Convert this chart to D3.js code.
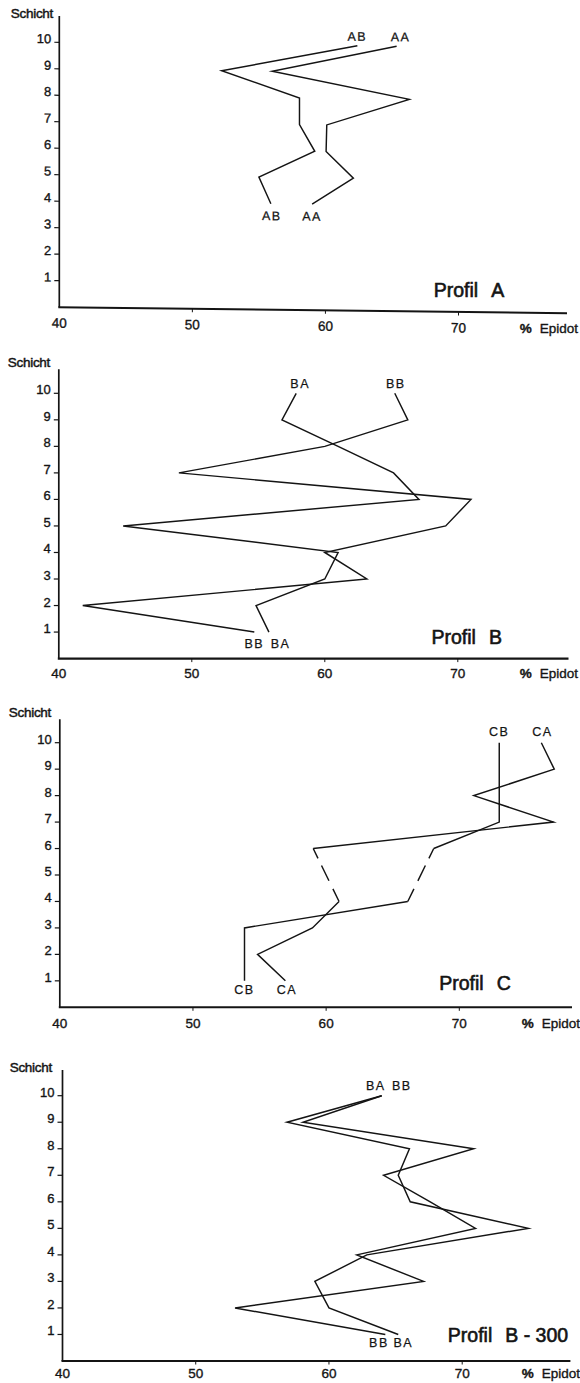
<!DOCTYPE html>
<html>
<head>
<meta charset="utf-8">
<script src="https://cdn.jsdelivr.net/npm/d3@7"></script>
<style>
  html, body { margin: 0; padding: 0; background: #fff; }
  svg { display: block; font-family: "Liberation Sans", Arial, sans-serif; }
</style>
</head>
<body>
<svg id="chart" width="580" height="1383"></svg>
<script>
// Schicht (layer) numbers, bottom to top
const layers = [1, 2, 3, 4, 5, 6, 7, 8, 9, 10];
const xTicks = [40, 50, 60, 70];
const yTicks = [1, 2, 3, 4, 5, 6, 7, 8, 9, 10];

// % Epidot per Schicht (index 0 = Schicht 1); null = no sample
const profilA_AB = [null, null, null, 55.9, 55.0, 59.2, 58.05, 58.05, 52.2, 62.4];
const profilA_AA = [null, null, null, 59.0, 62.1, 60.05, 60.1, 66.3, 56.0, 65.35];
const profilB_BA = [55.8, 54.83, 60.0, 61.0, 44.84, 67.08, 65.17, 61.0, 56.78, 57.85];
const profilB_BB = [54.7, 41.8, 63.16, 60.0, 69.09, 70.99, 49.03, 60.0, 66.24, 65.26];
const profilC_CA = [56.94, 54.85, 58.97, 60.97, null, 59.03, 77.08, 71.09, 77.13, 76.16];
const profilC_CB = [53.87, 53.87, 53.87, 66.13, null, 68.08, 73.0, 73.0, 73.0, 73.0];
const profilB300_BA = [65.2, 60.0, 58.94, 62.84, 74.96, 66.1, 65.2, 66.04, 56.85, 63.96];
const profilB300_BB = [64.23, 52.95, 67.1, 62.09, 71.0, 67.6, 64.1, 70.86, 58.05, 63.96];

// Panel titles: word "Profil" and the profile name
const panelWord = "Profil";
const panelNames = ["A", "B", "C", "B - 300"];
const seriesNames = [["AB", "AA"], ["BA", "BB"], ["CA", "CB"], ["BA", "BB"]];
const seriesValues = [
  [profilA_AB, profilA_AA],
  [profilB_BA, profilB_BB],
  [profilC_CA, profilC_CB],
  [profilB300_BA, profilB300_BB]
];
const yAxisTitle = "Schicht";
const xAxisUnit = "%";
const xAxisTitle = "Epidot";

// Panel geometry (pixels) and label offsets
const layout = [
  { x40: 59.3, x70: 458.5, top: 16, y0: 307.2, y10: 42.3, right: 567, shear: 0.0118,
    schicht: [53, 18], title: [469, 296.5], epidot: [578, 332.5], xLabDy: 20.5,
    lab: [{ top: [0, -5], bot: [1, 16.5] }, { top: [4, -5], bot: [0, 16.5] }] },
  { x40: 58.8, x70: 457.8, top: 369.3, y0: 658.6, y10: 393.3, right: 568.5, shear: 0,
    schicht: [50, 367.3], title: [466.7, 644], epidot: [578, 678], xLabDy: 19.4,
    lab: [{ top: [4, -5.7], bot: [11.6, 16] }, { top: [1, -5.7], bot: [0, 16] }] },
  { x40: 59.8, x70: 459.3, top: 719.3, y0: 1007.3, y10: 742.7, right: 572, shear: 0,
    schicht: [51, 717.3], title: [475, 989.5], epidot: [580, 1027.7], xLabDy: 20.7,
    lab: [{ top: [1, -6.7], bot: [1.5, 13.3] }, { top: [0, -6.7], bot: [0, 13.3] }] },
  { x40: 62.5, x70: 462.2, top: 1070, y0: 1361, y10: 1095.7, right: 570.4, shear: 0,
    schicht: [51.9, 1072], title: [508, 1342], epidot: [580, 1377.7], xLabDy: 17,
    lab: [{ top: [-6, -5.4], bot: [5, 13] }, { top: [20, -5.4], bot: [-6.4, 13] }] }
];

const ink = "#141414";
const svg = d3.select("#chart");

// Straight dashed bridges over interior gaps (missing samples)
function gapSegments(vals) {
  const segs = [];
  let prev = null;
  vals.forEach((v, i) => {
    if (v == null) return;
    if (prev !== null && i - prev > 1) {
      segs.push([[layers[prev], vals[prev]], [layers[i], v]]);
    }
    prev = i;
  });
  return segs;
}

layout.forEach((L, p) => {
  const x = d3.scaleLinear().domain([40, 70]).range([L.x40, L.x70]);
  const y = d3.scaleLinear().domain([0, 10]).range([L.y0, L.y10]);

  // Panel A was drawn with a slightly sloping base line: shear the plot to follow it
  const g = svg.append("g")
    .attr("transform", `matrix(1,${L.shear},0,1,0,${-L.shear * L.x40})`);

  // y axis
  g.append("line")
    .attr("x1", L.x40).attr("x2", L.x40)
    .attr("y1", L.top).attr("y2", L.y0)
    .attr("stroke", ink).attr("stroke-width", 1.7);

  // x axis
  g.append("line")
    .attr("x1", L.x40 - 1).attr("x2", L.right)
    .attr("y1", L.y0).attr("y2", L.y0)
    .attr("stroke", ink).attr("stroke-width", 2.1);

  // y ticks: short mark left of the axis, number sitting on it
  const yt = g.append("g").selectAll("g").data(yTicks).join("g")
    .attr("transform", d => `translate(0,${y(d)})`);
  yt.append("line")
    .attr("x1", L.x40 - 5).attr("x2", L.x40)
    .attr("stroke", ink).attr("stroke-width", 1.2);
  yt.append("text")
    .attr("x", L.x40 - 8).attr("y", 1)
    .attr("text-anchor", "end")
    .attr("font-size", 13)
    .attr("fill", ink)
    .attr("stroke", ink).attr("stroke-width", 0.35)
    .text(d => d);

  // x ticks
  const xt = g.append("g").selectAll("g").data(xTicks).join("g")
    .attr("transform", d => `translate(${x(d)},${L.y0})`);
  xt.filter(d => d !== 40).append("line")
    .attr("y1", 0).attr("y2", 3.5)
    .attr("stroke", ink).attr("stroke-width", 1);
  xt.append("text")
    .attr("y", L.xLabDy)
    .attr("text-anchor", "middle")
    .attr("font-size", 13.5)
    .attr("fill", ink)
    .attr("stroke", ink).attr("stroke-width", 0.35)
    .text(d => d);

  // profile lines
  const line = d3.line()
    .defined(d => d[1] != null)
    .x(d => x(d[1]))
    .y(d => y(d[0]));

  seriesValues[p].forEach((vals, s) => {
    const pts = layers.map((l, i) => [l, vals[i]]);
    g.append("path")
      .attr("d", line(pts))
      .attr("fill", "none")
      .attr("stroke", ink)
      .attr("stroke-width", 1.45)
      .attr("stroke-linejoin", "miter")
      .attr("stroke-miterlimit", 6);

    gapSegments(vals).forEach(seg => {
      g.append("path")
        .attr("d", d3.line().x(d => x(d[1])).y(d => y(d[0]))(seg))
        .attr("fill", "none")
        .attr("stroke", ink)
        .attr("stroke-width", 1.45)
        .attr("stroke-dasharray", "14 9 17 8 24");
    });

    // series names at both ends of each line
    const defined = pts.filter(d => d[1] != null);
    const first = defined[0], last = defined[defined.length - 1];
    const off = L.lab[s];
    [[last, off.top], [first, off.bot]].forEach(([pt, o]) => {
      g.append("text")
        .attr("x", x(pt[1]) + o[0])
        .attr("y", y(pt[0]) + o[1])
        .attr("text-anchor", "middle")
        .attr("font-size", 12.5)
        .attr("letter-spacing", 1.5)
        .attr("fill", ink)
        .attr("stroke", ink).attr("stroke-width", 0.25)
        .text(seriesNames[p][s]);
    });
  });

  // axis titles
  svg.append("text")
    .attr("x", L.schicht[0]).attr("y", L.schicht[1])
    .attr("text-anchor", "end")
    .attr("font-size", 13.5)
    .attr("letter-spacing", -0.3)
    .attr("fill", ink)
    .attr("stroke", ink).attr("stroke-width", 0.45)
    .text(yAxisTitle);

  const ep = svg.append("text")
    .attr("x", L.epidot[0]).attr("y", L.epidot[1])
    .attr("text-anchor", "end")
    .attr("font-size", 13.5)
    .attr("fill", ink)
    .attr("stroke", ink).attr("stroke-width", 0.35);
  ep.append("tspan").attr("font-weight", "bold").text(xAxisUnit);
  ep.append("tspan").attr("dx", 8).text(xAxisTitle);

  // panel title
  const t = svg.append("text")
    .attr("x", L.title[0]).attr("y", L.title[1])
    .attr("text-anchor", "middle")
    .attr("font-size", 19.5)
    .attr("fill", ink)
    .attr("stroke", ink).attr("stroke-width", 0.6);
  t.append("tspan").text(panelWord);
  t.append("tspan").attr("dx", 13).text(panelNames[p]);
});
</script>
</body>
</html>
